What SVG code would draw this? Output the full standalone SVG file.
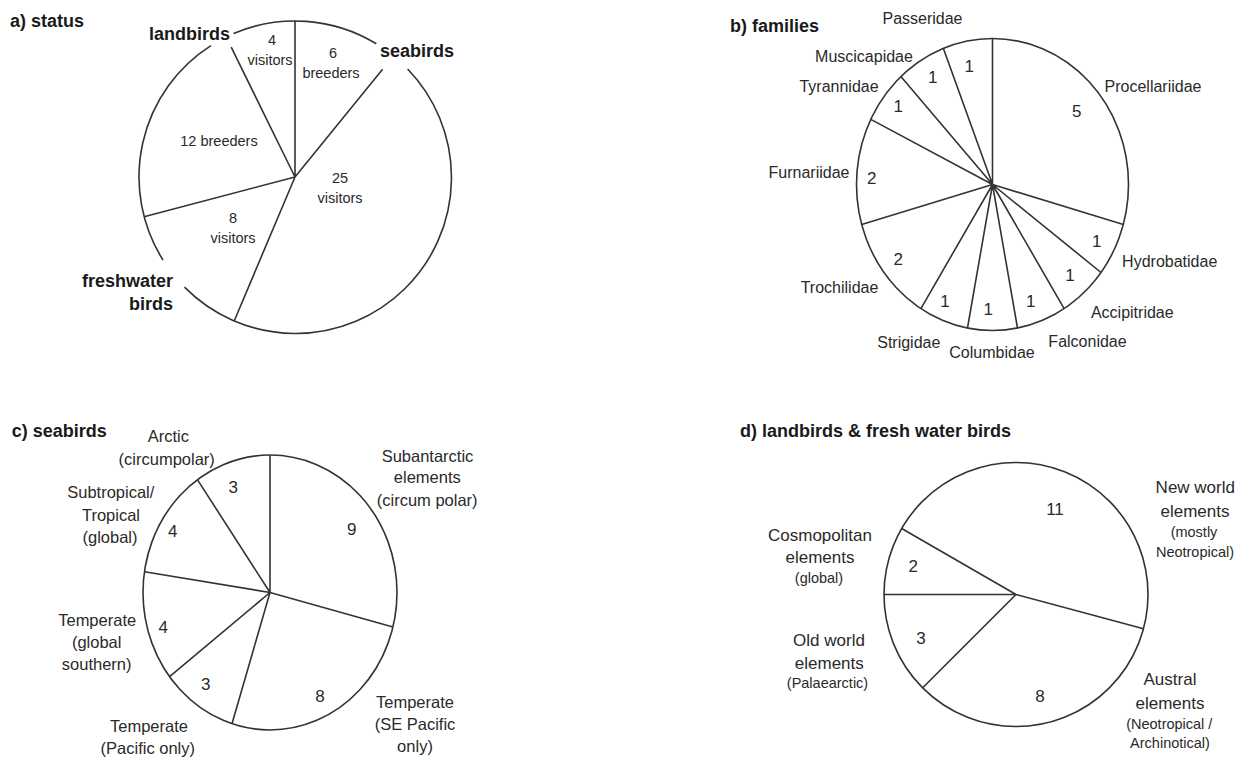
<svg xmlns="http://www.w3.org/2000/svg" width="1260" height="760" viewBox="0 0 1260 760">
<style>
.ln{fill:none;stroke:#333;stroke-width:1.6}
text{font-family:"Liberation Sans",Arial,sans-serif;fill:#2a2a2a}
.h{font-weight:bold;font-size:18px;fill:#1a1a1a}
.m{text-anchor:middle}
.a{font-size:14.5px}
.b{font-size:16px}
.c{font-size:16.5px}
.d{font-size:17px}
.s{font-size:14.5px}
.n{font-size:17px}
</style>
<rect width="1260" height="760" fill="#fff"/>

<g id="panel-a">
<path class="ln" d="M233.5 33.6 A156 156 0 0 1 376.3 43.8 M407.6 69 A156 156 0 0 1 184.5 287.1 M163 260.1 A156 156 0 0 1 210.9 45.6"/>
<path class="ln" d="M295 21 L295 177 M295 177 L382.6 69.2 M295 177 L234.3 320.7 M295 177 L144.1 216.7 M295 177 L231.2 47.2"/>
<text class="h" x="10" y="27">a) status</text>
<text class="h" x="230" y="40" text-anchor="end">landbirds</text>
<text class="h" x="380" y="57">seabirds</text>
<text class="h" x="173" y="287" text-anchor="end">freshwater</text>
<text class="h" x="173" y="310" text-anchor="end">birds</text>
<text class="a m" x="272" y="45">4</text>
<text class="a m" x="270" y="65">visitors</text>
<text class="a m" x="333" y="58">6</text>
<text class="a m" x="331" y="78">breeders</text>
<text class="a m" x="219" y="146">12 breeders</text>
<text class="a m" x="340" y="183">25</text>
<text class="a m" x="340" y="203">visitors</text>
<text class="a m" x="233" y="223">8</text>
<text class="a m" x="233" y="243">visitors</text>
</g>

<g id="panel-b">
<ellipse class="ln" cx="992.5" cy="184.5" rx="136" ry="146"/>
<path class="ln" d="M992.5 184.5 L992.5 38.5 M992.5 184.5 L1123.3 224.5 M992.5 184.5 L1101 272.5 M992.5 184.5 L1064.1 308.6 M992.5 184.5 L1017.5 328 M992.5 184.5 L967.5 328 M992.5 184.5 L920.9 308.6 M992.5 184.5 L861.7 224.5 M992.5 184.5 L870.8 119.4 M992.5 184.5 L900.9 76.6 M992.5 184.5 L943.4 48.4"/>
<text class="h" x="730" y="31.7">b) families</text>
<text class="b m" x="922.5" y="24">Passeridae</text>
<text class="b m" x="864" y="61.7">Muscicapidae</text>
<text class="b m" x="839" y="91.7">Tyrannidae</text>
<text class="b m" x="1153" y="91.7">Procellariidae</text>
<text class="b m" x="809" y="178.3">Furnariidae</text>
<text class="b m" x="1169.7" y="266.7">Hydrobatidae</text>
<text class="b m" x="1132.3" y="318.3">Accipitridae</text>
<text class="b m" x="1087.5" y="347.3">Falconidae</text>
<text class="b m" x="992" y="358.3">Columbidae</text>
<text class="b m" x="908.8" y="348.3">Strigidae</text>
<text class="b m" x="839.5" y="293.3">Trochilidae</text>
<text class="n m" x="1076.7" y="116.7">5</text>
<text class="n m" x="969.3" y="71.7">1</text>
<text class="n m" x="932.7" y="83.3">1</text>
<text class="n m" x="898.3" y="111.7">1</text>
<text class="n m" x="871.7" y="184.3">2</text>
<text class="n m" x="1096.7" y="246.7">1</text>
<text class="n m" x="1070" y="280.7">1</text>
<text class="n m" x="1030.7" y="306.7">1</text>
<text class="n m" x="988.3" y="315">1</text>
<text class="n m" x="945" y="306.7">1</text>
<text class="n m" x="898.3" y="265">2</text>
</g>

<g id="panel-c">
<ellipse class="ln" cx="270" cy="592.5" rx="127" ry="137.5"/>
<path class="ln" d="M270 592.5 L270 455 M270 592.5 L392.9 627 M270 592.5 L232 723.7 M270 592.5 L169.6 676.7 M270 592.5 L144.5 571.7 M270 592.5 L197.4 479.6"/>
<text class="h" x="11.7" y="437.3">c) seabirds</text>
<text class="c m" x="168.3" y="441.7">Arctic</text>
<text class="c m" x="166.7" y="465">(circumpolar)</text>
<text class="c m" x="110.8" y="497.7">Subtropical/</text>
<text class="c m" x="111" y="521">Tropical</text>
<text class="c m" x="110" y="543.3">(global)</text>
<text class="c m" x="427.5" y="461.7">Subantarctic</text>
<text class="c m" x="427.3" y="483.3">elements</text>
<text class="c m" x="427.2" y="506">(circum polar)</text>
<text class="c m" x="97.2" y="626">Temperate</text>
<text class="c m" x="96.7" y="648.3">(global</text>
<text class="c m" x="96.7" y="670">southern)</text>
<text class="c m" x="149" y="731.7">Temperate</text>
<text class="c m" x="147.8" y="754">(Pacific only)</text>
<text class="c m" x="415" y="708.3">Temperate</text>
<text class="c m" x="415" y="730">(SE Pacific</text>
<text class="c m" x="415" y="751.7">only)</text>
<text class="n m" x="233.3" y="493.3">3</text>
<text class="n m" x="172.7" y="536.7">4</text>
<text class="n m" x="351.7" y="535">9</text>
<text class="n m" x="163.3" y="633.3">4</text>
<text class="n m" x="205.7" y="690">3</text>
<text class="n m" x="320" y="701.7">8</text>
</g>

<g id="panel-d">
<circle class="ln" cx="1016" cy="594.5" r="132"/>
<path class="ln" d="M1016 594.5 L884 594.5 M1016 594.5 L901.7 528.5 M1016 594.5 L1143.5 628.7 M1016 594.5 L922.7 687.8"/>
<text class="h" x="740" y="436.7">d) landbirds &amp; fresh water birds</text>
<text class="d m" x="1195.3" y="493.3">New world</text>
<text class="d m" x="1195" y="516.7">elements</text>
<text class="s m" x="1194" y="536.7">(mostly</text>
<text class="s m" x="1195" y="556.7">Neotropical)</text>
<text class="d m" x="820" y="540.7">Cosmopolitan</text>
<text class="d m" x="820" y="563.3">elements</text>
<text class="s m" x="819" y="582.7">(global)</text>
<text class="d m" x="829" y="646">Old world</text>
<text class="d m" x="829.3" y="669.3">elements</text>
<text class="s m" x="827.5" y="688.3">(Palaearctic)</text>
<text class="d m" x="1170" y="685">Austral</text>
<text class="d m" x="1170" y="709.3">elements</text>
<text class="s m" x="1169.3" y="729.3">(Neotropical /</text>
<text class="s m" x="1170" y="748.3">Archinotical)</text>
<text class="n m" x="1055" y="515">11</text>
<text class="n m" x="913.3" y="571.7">2</text>
<text class="n m" x="921" y="644">3</text>
<text class="n m" x="1040" y="701.7">8</text>
</g>
</svg>
